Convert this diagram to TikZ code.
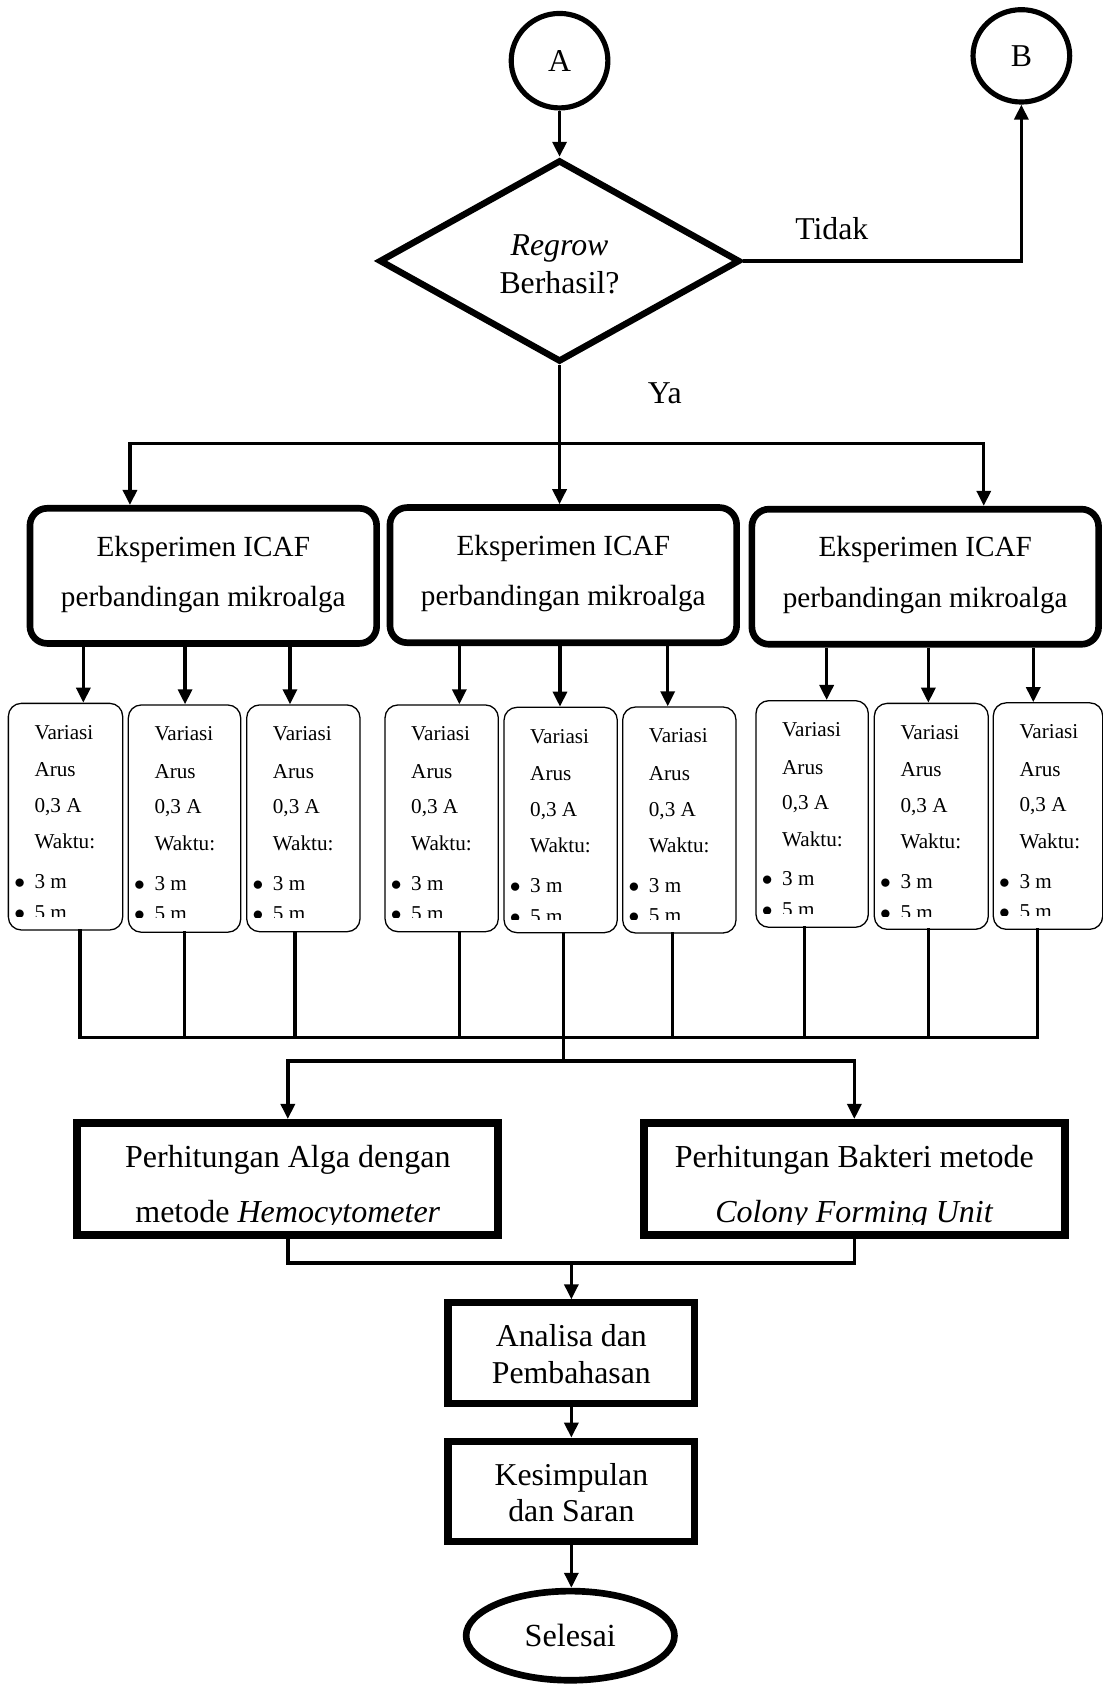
\documentclass[tikz,border=0pt]{standalone}
\usepackage{fontspec}
\setmainfont{Liberation Serif}
\usepackage{graphicx}
\usetikzlibrary{arrows.meta,shapes.geometric}
\begin{document}
\begin{tikzpicture}[x=0.5pt,y=-0.5pt,
  conn/.style={line width=1.6pt,line cap=rect},
  arr/.style={line width=1.6pt,-{Triangle[length=7pt,width=6.5pt]}},
  ebox/.style={draw,line width=3.1pt,rounded corners=8pt,minimum width=161.4pt,minimum height=62.9pt,inner sep=0pt},
  sbox/.style={draw,line width=0.6pt,rounded corners=6pt,inner sep=0pt},
  stext/.style={font=\fontsize{9.85pt}{12pt}\selectfont,inner sep=0pt,anchor=base west},
  sbul/.style={font=\fontsize{9.85pt}{12pt}\selectfont,inner sep=0pt,anchor=base},
  big/.style={font=\fontsize{14.8pt}{17.5pt}\selectfont},
  lbl/.style={font=\fontsize{14.8pt}{17.5pt}\selectfont,inner sep=0pt,anchor=base},
  etext/.style={font=\fontsize{13.6pt}{16pt}\selectfont,inner sep=0pt,anchor=base},
  pbox/.style={draw,line width=3.8pt,inner sep=0pt,minimum width=196pt,minimum height=52.3pt},
  abox/.style={draw,line width=3.3pt,inner sep=0pt,minimum width=114.9pt,minimum height=46.9pt},
  ptext/.style={font=\fontsize{14.9pt}{17.5pt}\selectfont,inner sep=0pt,anchor=base},
  conncircle/.style={draw,ellipse,line width=2.4pt,minimum width=45pt,inner sep=0pt,font=\fontsize{14.8pt}{17.5pt}\selectfont},
]
\useasboundingbox (0,0) rectangle (1027,1568);

% connectors A, B, decision
\node[conncircle,minimum height=44pt] (A) at (521,56.5) {A};
\node[conncircle,minimum height=43pt] (B) at (951,52) {B};
\node[draw,diamond,aspect=1.8,line width=3pt,minimum width=168pt,minimum height=94pt,inner sep=0pt] (D) at (521,243) {};
\node[lbl] (Dt1) at (521,238) {\textit{Regrow}};
\node[lbl] (Dt2) at (521,273) {Berhasil?};
\node[lbl] (tidak) at (774.5,222.8) {Tidak};
\node[lbl] (ya) at (619,376) {Ya};

\draw[arr] (A) -- (D);
\draw[arr] (D.east) -| (B.south);

% experiment boxes
\foreach \n/\cx/\cy in {E1/189.3/536.2, E2/524.5/535.5, E3/861.5/537}{
  \node[ebox] (\n) at (\cx,\cy) {};
  \node[etext] (\n-a) at (\cx,\cy-18.5) {Eksperimen ICAF};
  \node[etext] (\n-b) at (\cx,\cy+28.5) {perbandingan mikroalga};
}

\coordinate (e1in) at (121,413);
\coordinate (e3in) at (916,413);
\draw[conn] (e1in) -- (e3in);
\draw[arr] (D.south) -- (D.south |- E2.north);
\draw[arr] (e1in) -- (e1in |- E1.north);
\draw[arr] (e3in) -- (e3in |- E3.north);

% small variation boxes
\foreach \i/\xl/\yt/\xr/\yb/\ain/\aout/\pe in {
  1/7.8/654.9/114.2/865.9/77.6/74.5/E1,
  2/119.5/656.4/224.1/868/172.3/171.6/E1,
  3/229.7/656.4/335.2/867.5/270/274.7/E1,
  4/358.5/656.4/464/867.5/427.7/427.7/E2,
  5/469.3/658.6/574.8/868.4/521.4/524.5/E2,
  6/579.8/658.3/685.3/868.7/621.7/626.3/E2,
  7/703.9/652.4/808.5/863.4/769.7/748.9/E3,
  8/814.1/654.9/920.2/865.3/864.4/864.4/E3,
  9/924.9/654.4/1026.7/865.3/962.1/966.2/E3}{
  \node[sbox,minimum width={(\xr-\xl)*0.5},minimum height={(\yb-\yt)*0.5}] (b\i) at ({(\xl+\xr)/2},{(\yt+\yb)/2}) {};
  \begin{scope}
    \clip (\xl,\yt) rectangle (\xr,\yt+198);
    \node[stext] (b\i-t1) at (\xl+24,\yt+33.5) {Variasi};
    \node[stext] (b\i-t2) at (\xl+24,\yt+68.5) {Arus};
    \node[stext] (b\i-t3) at (\xl+24,\yt+101.5) {0,3 A};
    \node[stext] (b\i-t4) at (\xl+24,\yt+135.5) {Waktu:};
    \node[sbul] (b\i-u5) at (\xl+10.5,\yt+172.5) {$\bullet$};
    \node[stext] (b\i-t5) at (\xl+24,\yt+172.5) {3 m};
    \node[sbul] (b\i-u6) at (\xl+10.5,\yt+201) {$\bullet$};
    \node[stext] (b\i-t6) at (\xl+24,\yt+201) {5 m};
  \end{scope}
  \coordinate (b\i-in) at (\ain,0);
  \draw[arr] (\pe.south -| b\i-in) -- (b\i.north -| b\i-in);
  \coordinate (b\i-out) at (\aout,966);
  \draw[conn] (b\i.south -| b\i-out) -- (b\i-out);
}

\coordinate (busL) at (74.5,966);
\coordinate (busR) at (966.2,966);
\coordinate (busC) at (524.5,966);
\coordinate (bus2) at (524.5,988);
\draw[conn] (busL) -- (busR);
\draw[conn] (busC) -- (bus2);

% counting boxes
\node[pbox] (P1) at (268,1098) {};
\node[pbox] (P2) at (795.5,1098) {};
\draw[arr] (bus2) -| (P1.north);
\draw[arr] (bus2) -| (P2.north);
\node[ptext] (P1a) at (268,1087.5) {Perhitungan Alga dengan};
\node[ptext] (P2a) at (795.5,1087.5) {Perhitungan Bakteri metode};
\begin{scope}
  \clip (60,1100) rectangle (1000,1140.5);
  \node[ptext] (P1b) at (268,1138.5) {metode \textit{Hemocytometer}};
  \node[ptext] (P2b) at (795.5,1138.5) {\textit{Colony Forming Unit}};
\end{scope}

% analysis, conclusion, end
\node[abox] (An) at (532,1260) {};
\node[lbl] (An1) at (532,1253.5) {Analisa dan};
\node[lbl] (An2) at (532,1288) {Pembahasan};
\node[abox] (Ks) at (532,1388.8) {};
\node[lbl] (Ks1) at (532,1382.7) {Kesimpulan};
\node[lbl] (Ks2) at (532,1416.5) {dan Saran};
\node[draw,ellipse,line width=3.1pt,minimum width=97pt,minimum height=41.5pt,inner sep=0pt,font=\fontsize{15pt}{18pt}\selectfont] (S) at (531,1523) {Selesai};

\coordinate (lb) at (532,1176);
\draw[conn] (P1.south) |- (lb);
\draw[conn] (P2.south) |- (lb);
\draw[arr] (lb) -- (An.north);
\draw[arr] (An.south) -- (Ks.north);
\draw[arr] (Ks.south) -- (Ks.south |- S.north);
\end{tikzpicture}
\end{document}
